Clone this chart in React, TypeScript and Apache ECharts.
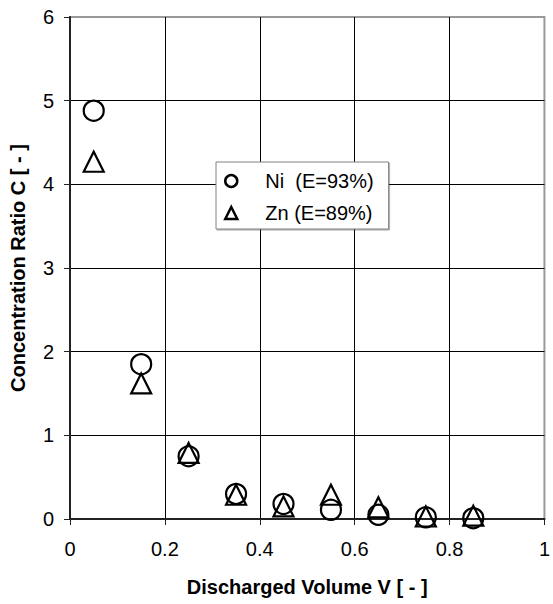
import React, { useEffect, useRef } from "react";
import * as echarts from "echarts";

const volumes = [0.05, 0.15, 0.25, 0.35, 0.45, 0.55, 0.65, 0.75, 0.85];
const niRatio = [4.88, 1.85, 0.75, 0.3, 0.18, 0.11, 0.05, 0.02, 0.01];
const znRatio = [4.27, 1.62, 0.79, 0.29, 0.15, 0.29, 0.14, 0.03, 0.04];
const seriesNames = ["Ni  (E=93%)", "Zn (E=89%)"];
const xTitle = "Discharged Volume V [ - ]";
const yTitle = "Concentration Ratio C [ - ]";

const FONT = "'Liberation Sans', Arial, sans-serif";

export default function App() {
  const ref = useRef<HTMLDivElement>(null);
  useEffect(() => {
    if (!ref.current) return;
    const chart = echarts.init(ref.current, undefined, { renderer: "svg" });
    const pts = (ys: number[]) => volumes.map((x, i) => [x, ys[i]]);
    const markerStyle = {
      color: "rgba(255,255,255,0)",
      borderColor: "#000",
      borderWidth: 2.2,
      opacity: 1,
    };
    chart.setOption({
      animation: false,
      backgroundColor: "#fff",
      textStyle: { fontFamily: FONT },
      grid: {
        left: 70,
        right: 4,
        top: 17,
        bottom: 85,
        show: true,
        borderColor: "#999",
        borderWidth: 2,
        backgroundColor: "transparent",
      },
      legend: {
        orient: "vertical",
        left: 216,
        top: 162,
        padding: [9, 15, 6, 8],
        itemGap: 12,
        itemWidth: 12,
        itemHeight: 12,
        backgroundColor: "#fff",
        borderColor: "#808080",
        borderWidth: 1,
        shadowColor: "rgba(0,0,0,0.35)",
        shadowOffsetX: 1,
        shadowOffsetY: 1,
        itemStyle: {
          color: "rgba(255,255,255,0)",
          borderColor: "#000",
          borderWidth: 2.5,
          opacity: 1,
        },
        textStyle: {
          fontFamily: FONT,
          fontSize: 20,
          lineHeight: 20,
          color: "#000",
          padding: [0, 0, 0, 23],
        },
        data: seriesNames,
      },
      xAxis: {
        type: "value",
        min: 0,
        max: 1,
        interval: 0.2,
        name: xTitle,
        nameLocation: "middle",
        nameGap: 58,
        nameTextStyle: { fontFamily: FONT, fontSize: 20, fontWeight: "bold", color: "#000" },
        axisLine: { show: true, onZero: false, lineStyle: { color: "#222", width: 2 } },
        axisTick: { show: true, inside: false, length: 6, lineStyle: { color: "#222", width: 1 } },
        axisLabel: { fontFamily: FONT, fontSize: 20, color: "#000", margin: 20 },
        splitLine: {
          show: true,
          showMinLine: false,
          showMaxLine: false,
          lineStyle: { color: "#000", width: 1 },
        },
      },
      yAxis: {
        type: "value",
        min: 0,
        max: 6,
        interval: 1,
        name: yTitle,
        nameLocation: "middle",
        nameGap: 42,
        nameRotate: 90,
        nameTextStyle: { fontFamily: FONT, fontSize: 20, fontWeight: "bold", color: "#000" },
        axisLine: { show: true, onZero: false, lineStyle: { color: "#222", width: 2 } },
        axisTick: { show: true, inside: false, length: 6, lineStyle: { color: "#222", width: 1 } },
        axisLabel: { fontFamily: FONT, fontSize: 20, color: "#000", margin: 16 },
        splitLine: {
          show: true,
          showMinLine: false,
          showMaxLine: false,
          lineStyle: { color: "#000", width: 1 },
        },
      },
      series: [
        {
          name: seriesNames[0],
          type: "scatter",
          symbol: "circle",
          symbolSize: 20,
          clip: false,
          itemStyle: markerStyle,
          data: pts(niRatio),
          z: 3,
        },
        {
          name: seriesNames[1],
          type: "scatter",
          symbol: "triangle",
          symbolSize: 20,
          clip: false,
          itemStyle: markerStyle,
          data: pts(znRatio),
          z: 3,
        },
      ],
    });
    return () => chart.dispose();
  }, []);
  return (
    <div
      ref={ref}
      style={{ position: "absolute", left: 0, top: 0, width: 553, height: 604 }}
    />
  );
}
